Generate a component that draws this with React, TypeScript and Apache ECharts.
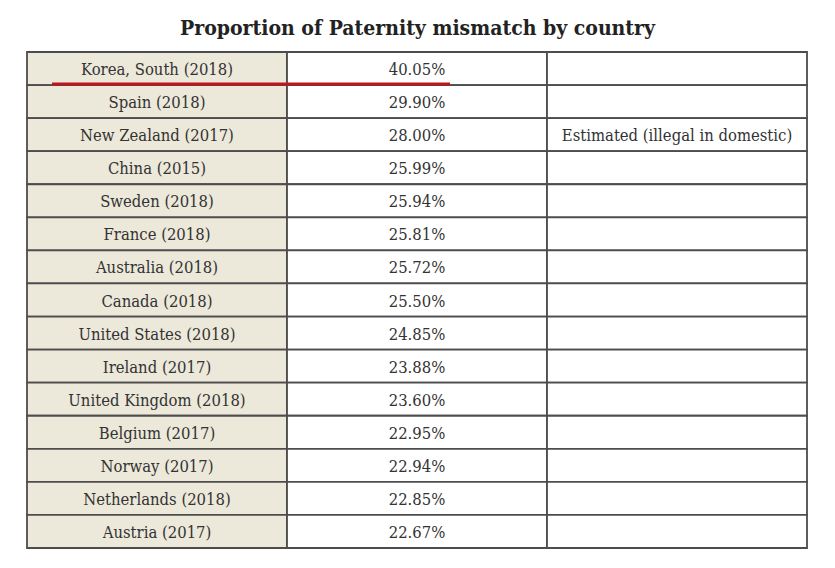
import React, { useEffect, useRef } from "react";
import * as echarts from "echarts";

const title = "Proportion of Paternity mismatch by country";
const countries = [
  "Korea, South (2018)",
  "Spain (2018)",
  "New Zealand (2017)",
  "China (2015)",
  "Sweden (2018)",
  "France (2018)",
  "Australia (2018)",
  "Canada (2018)",
  "United States (2018)",
  "Ireland (2017)",
  "United Kingdom (2018)",
  "Belgium (2017)",
  "Norway (2017)",
  "Netherlands (2018)",
  "Austria (2017)",
];
const rates = [
  "40.05%", "29.90%", "28.00%", "25.99%", "25.94%", "25.81%", "25.72%", "25.50%",
  "24.85%", "23.88%", "23.60%", "22.95%", "22.94%", "22.85%", "22.67%",
];
const notes = [
  "", "", "Estimated (illegal in domestic)", "", "", "", "", "", "", "", "", "", "", "", "",
];
const columns = ["Country", "Rate", "Note"];

const CELL_FONT = "DejaVu Serif Condensed, DejaVu Serif, serif";

export default function App() {
  const ref = useRef<HTMLDivElement>(null);
  useEffect(() => {
    document.body.style.margin = "0";
    const chart = echarts.init(ref.current!, undefined, { renderer: "svg" });
    const cells: any[] = [];
    countries.forEach((c, r) => {
      cells.push([0, r, c]);
      cells.push([1, r, rates[r]]);
      cells.push([2, r, notes[r]]);
    });
    chart.setOption({
      animation: false,
      backgroundColor: "#ffffff",
      title: {
        text: title,
        left: "center",
        top: 12,
        textStyle: {
          fontFamily: CELL_FONT,
          fontWeight: "bold",
          fontSize: 21,
          color: "#222222",
        },
      },
      grid: { left: 27, right: 28, top: 52, bottom: 20 },
      xAxis: { type: "category", data: columns, show: false },
      yAxis: {
        type: "category",
        data: countries,
        inverse: true,
        show: false,
      },
      series: [
        {
          type: "custom",
          data: cells,
          renderItem: (params: any, api: any) => {
            const col = api.value(0);
            const row = api.value(1);
            const txt = cells[params.dataIndex][2];
            const center = api.coord([col, row]);
            const size = api.size([1, 1]);
            const x = center[0] - size[0] / 2;
            const y = center[1] - size[1] / 2;
            return {
              type: "group",
              children: [
                {
                  type: "rect",
                  shape: { x, y, width: size[0], height: size[1] },
                  style: {
                    fill: col === 0 ? "#ece8da" : "#ffffff",
                    stroke: "#4d4d4d",
                    lineWidth: 1.8,
                  },
                },
                {
                  type: "text",
                  style: {
                    text: txt,
                    x: center[0],
                    y: center[1] + 1,
                    align: "center",
                    verticalAlign: "middle",
                    font: `16.5px ${CELL_FONT}`,
                    fill: "#333333",
                  },
                },
              ],
            };
          },
        },
      ],
      graphic: [
        {
          type: "line",
          shape: { x1: 52, y1: 84, x2: 450, y2: 84 },
          style: { stroke: "#c0141c", lineWidth: 3 },
          z: 100,
        },
      ],
    });
    return () => chart.dispose();
  }, []);
  return <div ref={ref} style={{ width: 835, height: 568 }} />;
}
